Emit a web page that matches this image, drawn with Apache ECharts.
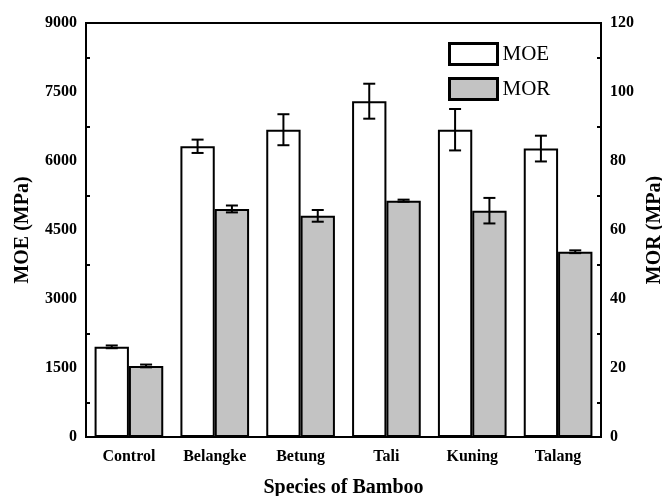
<!DOCTYPE html>
<html><head><meta charset="utf-8">
<script src="https://cdn.jsdelivr.net/npm/echarts@6/dist/echarts.min.js"></script>
<style>html,body{margin:0;padding:0;background:#fff}#c{width:662px;height:496px}</style>
</head><body><div id="c"></div>
<script>
var categories = ['Control','Belangke','Betung','Tali','Kuning','Talang'];
var moeValues = [1960, 6320, 6680, 7300, 6680, 6270];
var moeErrors = [30, 145, 337, 380, 450, 280];
var morValues = [20.6, 66.1, 64.1, 68.5, 65.6, 53.7];
var morErrors = [0.4, 1.0, 1.7, 0.3, 3.7, 0.4];
var moeTicks = [0, 1500, 3000, 4500, 6000, 7500, 9000];
var morTicks = [0, 20, 40, 60, 80, 100, 120];

var FONT = '"Liberation Serif","Times New Roman",serif';
var chart = echarts.init(document.getElementById('c'), null, {renderer:'canvas'});

function errRender(sign){
  return function(params, api){
    var x = api.value(0), v = api.value(1), e = api.value(2);
    var band = api.size([1,0])[0];
    var c = api.coord([x, v]);
    var cx = c[0] + sign*band*0.2;
    var top = api.coord([x, v+e])[1], bot = api.coord([x, v-e])[1];
    var hw = 6, st = {stroke:'#000', lineWidth:2};
    return {type:'group', children:[
      {type:'line', shape:{x1:cx,y1:top,x2:cx,y2:bot}, style:st},
      {type:'line', shape:{x1:cx-hw,y1:top,x2:cx+hw,y2:top}, style:st},
      {type:'line', shape:{x1:cx-hw,y1:bot,x2:cx+hw,y2:bot}, style:st}
    ]};
  };
}

function plain(v){ return String(v); }
var axisLabelStyle = {fontFamily:FONT, fontWeight:'bold', fontSize:16, color:'#000'};
var option = {
  animation:false,
  backgroundColor:'#fff',
  grid:{left:86, right:61, top:23, bottom:59, outerBoundsMode:'none', containLabel:false,
        show:true, borderColor:'#000', borderWidth:2, backgroundColor:'transparent'},
  legend:{
    orient:'vertical', left:448, top:42, padding:0, itemWidth:48, itemHeight:21, itemGap:14,
    icon:'rect',
    data:['MOE','MOR'],
    itemStyle:{borderWidth:3, borderColor:'#000'},
    textStyle:{fontFamily:FONT, fontSize:21, lineHeight:21, color:'#000'}
  },
  xAxis:{
    type:'category', data:categories,
    axisLine:{lineStyle:{color:'#000', width:2}},
    axisTick:{inside:true, length:4, lineStyle:{color:'#000', width:2}},
    axisLabel:Object.assign({margin:12}, axisLabelStyle),
    name:'Species of Bamboo', nameLocation:'middle', nameGap:41,
    nameTextStyle:{fontFamily:FONT, fontWeight:'bold', fontSize:20, color:'#000'}
  },
  yAxis:[{
    type:'value', min:moeTicks[0], max:moeTicks[moeTicks.length-1], interval:moeTicks[1]-moeTicks[0],
    splitLine:{show:false},
    axisLine:{show:true, lineStyle:{color:'#000', width:2}},
    axisTick:{inside:true, length:6, lineStyle:{color:'#000', width:2}},
    minorTick:{show:true, splitNumber:2, length:4, lineStyle:{color:'#000', width:2}},
    axisLabel:Object.assign({margin:9, formatter:plain}, axisLabelStyle),
    name:'MOE (MPa)', nameLocation:'middle', nameRotate:90, nameGap:53,
    nameTextStyle:{fontFamily:FONT, fontWeight:'bold', fontSize:20, color:'#000'}
  },{
    type:'value', position:'right', min:morTicks[0], max:morTicks[morTicks.length-1], interval:morTicks[1]-morTicks[0],
    splitLine:{show:false},
    axisLine:{show:true, lineStyle:{color:'#000', width:2}},
    axisTick:{inside:true, length:6, lineStyle:{color:'#000', width:2}},
    minorTick:{show:true, splitNumber:2, length:4, lineStyle:{color:'#000', width:2}},
    axisLabel:Object.assign({margin:9, formatter:plain}, axisLabelStyle),
    name:'MOR (MPa)', nameLocation:'middle', nameRotate:90, nameGap:40,
    nameTextStyle:{fontFamily:FONT, fontWeight:'bold', fontSize:20, color:'#000'}
  }],
  series:[{
    name:'MOE', type:'bar', yAxisIndex:0, data:moeValues,
    barGap:'0%', barCategoryGap:'20%',
    itemStyle:{color:'#fff', borderColor:'#000', borderWidth:2}
  },{
    name:'MOR', type:'bar', yAxisIndex:1, data:morValues,
    barGap:'0%', barCategoryGap:'20%',
    itemStyle:{color:'#c3c3c3', borderColor:'#000', borderWidth:2}
  },{
    type:'custom', yAxisIndex:0, z:10, renderItem:errRender(-1),
    encode:{x:0, y:1},
    data:moeValues.map(function(v,i){return [i, v, moeErrors[i]];})
  },{
    type:'custom', yAxisIndex:1, z:10, renderItem:errRender(1),
    encode:{x:0, y:1},
    data:morValues.map(function(v,i){return [i, v, morErrors[i]];})
  }]
};
option.legend.itemGap = 11;
chart.setOption(option);
</script></body></html>
